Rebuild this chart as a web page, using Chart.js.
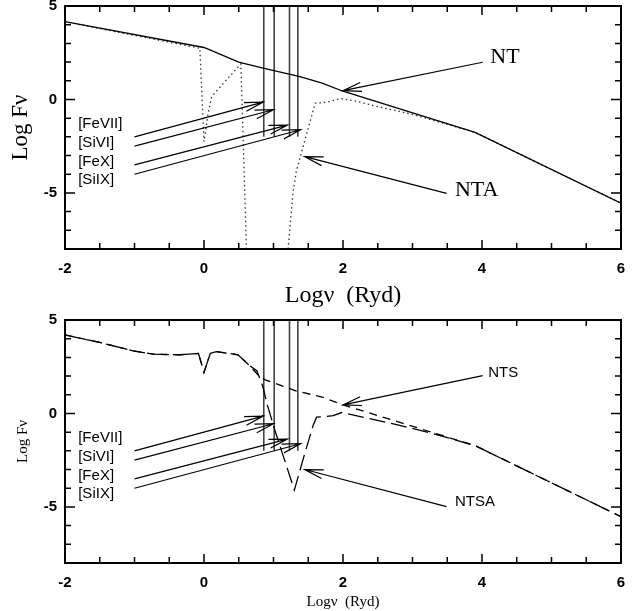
<!DOCTYPE html>
<html>
<head>
<meta charset="utf-8">
<script src="https://cdn.jsdelivr.net/npm/chart.js@4.4.1/dist/chart.umd.min.js"></script>
<style>
  html, body { margin: 0; padding: 0; background: #fff; }
  #top { position: absolute; left: 0; top: 0; width: 635px; height: 310px; }
  #bot { position: absolute; left: 0; top: 310px; width: 635px; height: 301px; }
</style>
</head>
<body>
<div id="top"><canvas id="c1"></canvas></div>
<div id="bot"><canvas id="c2"></canvas></div>
<script>
// --- top panel: NT (solid) and NTA (dotted) ---
const ntX = [-2, 0, 0.5, 0.85, 1.38, 1.7, 2.0, 3.9, 6];
const ntY = [4.16, 2.78, 2.0, 1.68, 1.22, 0.87, 0.44, -1.76, -5.55];
const ntaX = [-2, -0.06, 0.0, 0.06, 0.11, 0.28, 0.53, 0.57, 0.61, 0.9, 1.21, 1.28, 1.33, 1.6, 1.77, 1.96, 2.2, 2.5, 3.0, 3.9, 6];
const ntaY = [4.16, 2.74, -2.25, -0.74, 0.15, 0.87, 1.9, -2.9, -8, null, -8, -5.0, -3.8, -0.2, -0.15, 0.05, -0.1, -0.38, -0.8, -1.76, -5.55];

// --- bottom panel: NTS (short dash) and NTSA (long dash) ---
const ntsX = [-2, -1.5, -1.02, -0.73, -0.35, -0.08, 0.0, 0.09, 0.18, 0.49, 0.66, 0.78, 0.88, 1.33, 1.7, 2.0, 3.9, 6];
const ntsY = [4.2, 3.8, 3.35, 3.17, 3.14, 3.21, 2.2, 3.21, 3.31, 3.14, 2.55, 2.05, 1.8, 1.2, 0.88, 0.46, -1.72, -5.52];
const ntsaX = [-2, -1.5, -1.02, -0.73, -0.35, -0.08, 0.0, 0.09, 0.18, 0.49, 0.66, 0.76, 0.85, 0.9, 1.02, 1.3, 1.45, 1.57, 1.62, 1.86, 1.98, 2.8, 3.3, 3.9, 6];
const ntsaY = [4.2, 3.8, 3.35, 3.17, 3.14, 3.21, 2.2, 3.21, 3.31, 3.14, 2.55, 2.29, 1.4, 0.6, -0.9, -4.1, -2.14, -0.64, -0.2, -0.12, 0.05, -0.62, -1.08, -1.72, -5.52];

// coronal lines (log nu) and the arrows pointing at them
const lineNames = ['[FeVII]', '[SiVI]', '[FeX]', '[SiIX]'];
const lineFreq = [0.86, 1.01, 1.23, 1.35];
const lineLow = [-2.0, -2.0, -2.0, -2.0];
const lineTipX = [0.85, 1.0, 1.2, 1.39];
const lineTipY = [-0.14, -0.55, -1.37, -1.62];
const lineTailY = [-2.0, -2.5, -3.5, -4.0];
const lineLabelY = [-1.28, -2.32, -3.32, -4.3];

// axis ticks
const xTicks = [-2, 0, 2, 4, 6];
const yTicks = [-5, 0, 5];

const serif = '"Liberation Serif", "Times New Roman", serif';
const sans = '"Liberation Sans", Arial, sans-serif';

function pts(xs, ys) {
  return xs.map((x, i) => ({ x: x, y: ys[i] }));
}

function lineSets() {
  return lineFreq.map((f, i) => ({
    data: [{ x: f, y: 5 }, { x: f, y: lineLow[i] }],
    borderColor: '#444', borderWidth: 1.6, pointRadius: 0
  }));
}

// frame with inside ticks on all four sides
const frameTicks = {
  id: 'frameTicks',
  afterDatasetsDraw(chart) {
    const { ctx, chartArea: a, scales: { x, y } } = chart;
    ctx.save();
    ctx.strokeStyle = '#000';
    ctx.lineWidth = 2;
    ctx.strokeRect(a.left, a.top, a.right - a.left, a.bottom - a.top);
    ctx.lineWidth = 1.5;
    ctx.beginPath();
    for (let v = -2; v <= 6.001; v += 0.5) {
      const px = x.getPixelForValue(v);
      const len = Math.abs(v % 2) < 0.01 ? 9 : 6;
      ctx.moveTo(px, a.bottom); ctx.lineTo(px, a.bottom - len);
      ctx.moveTo(px, a.top); ctx.lineTo(px, a.top + len);
    }
    for (let v = -8; v <= 5; v += 1) {
      const py = y.getPixelForValue(v);
      const len = v % 5 === 0 ? 10 : 6;
      ctx.moveTo(a.left, py); ctx.lineTo(a.left + len, py);
      ctx.moveTo(a.right, py); ctx.lineTo(a.right - len, py);
    }
    ctx.stroke();
    ctx.restore();
  }
};

function drawArrow(ctx, x0, y0, x1, y1) {
  const ang = Math.atan2(y1 - y0, x1 - x0);
  const L = 19, w = 0.24;
  ctx.beginPath();
  ctx.moveTo(x0, y0); ctx.lineTo(x1, y1);
  ctx.moveTo(x1 - L * Math.cos(ang - w), y1 - L * Math.sin(ang - w));
  ctx.lineTo(x1, y1);
  ctx.lineTo(x1 - L * Math.cos(ang + w), y1 - L * Math.sin(ang + w));
  ctx.stroke();
}

function notesPlugin(notes) {
  return {
    id: 'notes',
    afterDatasetsDraw(chart) {
      const { ctx, scales: { x, y } } = chart;
      ctx.save();
      ctx.strokeStyle = '#000';
      ctx.lineWidth = 1.2;
      lineNames.forEach((n, i) => {
        drawArrow(ctx, x.getPixelForValue(-1.0), y.getPixelForValue(lineTailY[i]),
          x.getPixelForValue(lineTipX[i]), y.getPixelForValue(lineTipY[i]));
      });
      notes.forEach(n => {
        drawArrow(ctx, x.getPixelForValue(n.from[0]), y.getPixelForValue(n.from[1]),
          x.getPixelForValue(n.to[0]), y.getPixelForValue(n.to[1]));
      });
      ctx.fillStyle = '#000';
      ctx.textAlign = 'left';
      ctx.textBaseline = 'middle';
      ctx.font = '15px ' + sans;
      lineNames.forEach((n, i) => {
        ctx.fillText(n, x.getPixelForValue(-1.81), y.getPixelForValue(lineLabelY[i]));
      });
      notes.forEach(n => {
        ctx.font = n.font;
        ctx.fillText(n.text, x.getPixelForValue(n.at[0]), y.getPixelForValue(n.at[1]));
      });
      ctx.restore();
    }
  };
}

function makeChart(el, datasets, cfg) {
  return new Chart(document.getElementById(el), {
    type: 'line',
    data: { datasets: datasets },
    options: {
      responsive: true,
      maintainAspectRatio: false,
      animation: false,
      layout: { padding: { top: cfg.padTop, right: 14, left: 0, bottom: 0 } },
      plugins: { legend: { display: false }, tooltip: { enabled: false } },
      elements: { line: { tension: 0, fill: false } },
      scales: {
        x: {
          type: 'linear', min: -2, max: 6,
          afterBuildTicks: s => { s.ticks = xTicks.map(v => ({ value: v })); },
          afterFit: s => { s.height = cfg.axisH; s.paddingLeft = 0; s.paddingRight = 0; },
          grid: { display: false, drawTicks: false }, border: { display: false },
          ticks: { color: '#000', padding: 11, maxRotation: 0, font: { family: sans, size: 15, weight: 'bold' } },
          title: { display: true, text: 'Log\u03bd  (Ryd)', color: '#000', padding: 0, font: { family: serif, size: cfg.xTitle } }
        },
        y: {
          type: 'linear', min: -8, max: 5,
          afterBuildTicks: s => { s.ticks = yTicks.map(v => ({ value: v })); },
          afterFit: s => { s.width = 65; s.paddingTop = 0; s.paddingBottom = 0; },
          grid: { display: false, drawTicks: false }, border: { display: false },
          ticks: { color: '#000', padding: 8, font: { family: sans, size: 15, weight: 'bold' } },
          title: { display: true, text: 'Log F\u03bd', color: '#000', padding: { top: cfg.yPad, bottom: 0 }, font: { family: serif, size: cfg.yTitle } }
        }
      }
    },
    plugins: [frameTicks, notesPlugin(cfg.notes)]
  });
}

makeChart('c1', [
  { data: pts(ntX, ntY), borderColor: '#000', borderWidth: 1.3, pointRadius: 0 },
  { data: pts(ntaX, ntaY), borderColor: '#333', borderWidth: 1.3, borderDash: [1.5, 3], pointRadius: 0, spanGaps: false }
].concat(lineSets()), {
  padTop: 6, axisH: 61, xTitle: 24, yTitle: 23, yPad: 7,
  notes: [
    { text: 'NT', at: [4.12, 2.27], from: [4.01, 1.99], to: [2.0, 0.47], font: '22px ' + serif },
    { text: 'NTA', at: [3.61, -4.84], from: [3.49, -5.02], to: [1.45, -3.06], font: '22px ' + serif }
  ]
});

makeChart('c2', [
  { data: pts(ntsX, ntsY), borderColor: '#000', borderWidth: 1.3, borderDash: [8, 6], pointRadius: 0 },
  { data: pts(ntsaX, ntsaY), borderColor: '#000', borderWidth: 1.3, borderDash: [16, 6], pointRadius: 0 }
].concat(lineSets()), {
  padTop: 10, axisH: 48, xTitle: 15, yTitle: 15, yPad: 14,
  notes: [
    { text: 'NTS', at: [4.09, 2.18], from: [4.01, 2.02], to: [2.0, 0.46], font: '15px ' + sans },
    { text: 'NTSA', at: [3.61, -4.72], from: [3.49, -4.98], to: [1.45, -3.0], font: '15px ' + sans }
  ]
});
</script>
</body>
</html>
